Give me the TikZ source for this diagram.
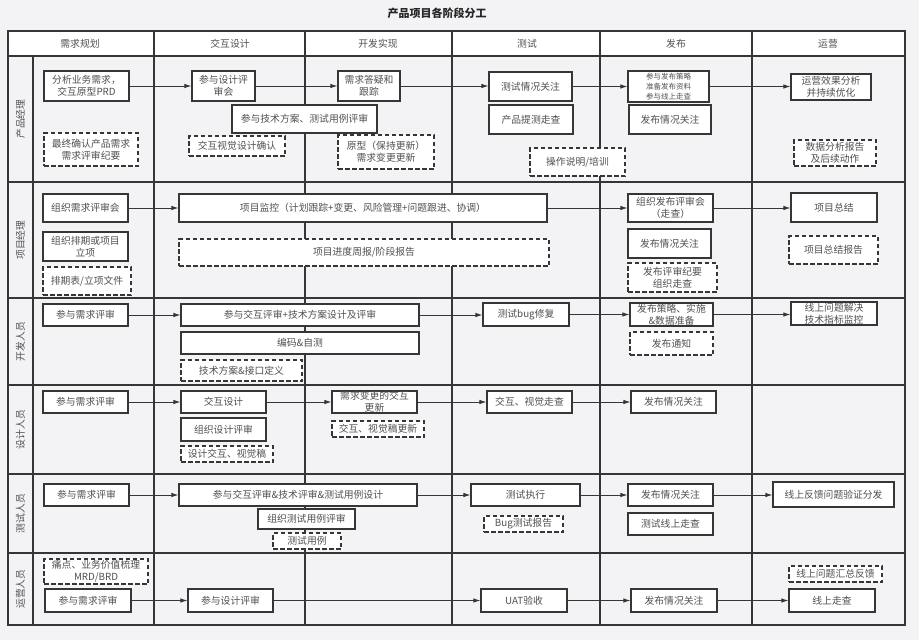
\documentclass[tikz,border=0pt]{standalone}
\usepackage{fontspec}
\setmainfont{Noto Sans CJK SC}
\usetikzlibrary{arrows.meta}
\definecolor{bg}{HTML}{F3F3F5}
\definecolor{ln}{HTML}{363636}
\definecolor{tx}{HTML}{505050}
\tikzset{
  box/.style={draw=ln, line width=1.1pt, fill=white, inner sep=0pt, align=center, text=tx, font=\fontsize{9.8}{12}\selectfont},
  dbox/.style={box, dash pattern=on 4.5pt off 2.5pt},
  sbox/.style={box, font=\fontsize{7.5}{10}\selectfont},
  flow/.style={draw=ln, line width=0.9pt, -{Latex[length=7pt,width=4.5pt]}},
  gridline/.style={draw=ln, line width=1.1pt},
  hdr/.style={text=tx, inner sep=0pt, font=\fontsize{9.8}{12}\selectfont},
  rowlab/.style={hdr, rotate=90},
}
\newcommand\BX[7]{\node[#1, minimum width={(#4-#2)*1pt}, minimum height={(#5-#3)*1pt}] (#6) at ({(#2+#4)/2},{(#3+#5)/2}) {#7};}
\begin{document}
\begin{tikzpicture}[x=1pt,y=-1pt]
\fill[bg] (0,0) rectangle (919,640);
\useasboundingbox (0,0) rectangle (919,640);
\fill[white] (8,31) rectangle (905,56);
% grid
\draw[gridline] (8,31) rectangle (905,625);
\foreach \yy in {56,182,298,385,474,553} \draw[gridline] (8,\yy) -- (905,\yy);
\draw[gridline] (33,56) -- (33,625);
\foreach \xx in {154,305,452,600,752} \draw[gridline] (\xx,31) -- (\xx,625);
% title and headers
\node[font=\bfseries\fontsize{11}{13}\selectfont, text=black!85, inner sep=0pt] (title) at (437,13) {产品项目各阶段分工};
\node[hdr] (h1) at (80,44) {需求规划};
\node[hdr] (h2) at (230,44) {交互设计};
\node[hdr] (h3) at (378,44) {开发实现};
\node[hdr] (h4) at (527,44) {测试};
\node[hdr] (h5) at (676,44) {发布};
\node[hdr] (h6) at (828,44) {运营};
\node[rowlab] (r1) at (20.5,119) {产品经理};
\node[rowlab] (r2) at (20.5,240) {项目经理};
\node[rowlab] (r3) at (20.5,341.5) {开发人员};
\node[rowlab] (r4) at (20.5,429.5) {设计人员};
\node[rowlab] (r5) at (20.5,513.5) {测试人员};
\node[rowlab] (r6) at (20.5,589) {运营人员};
% row 1
\BX{box}{44}{71}{129}{101}{a1}{分析业务需求，\\交互原型PRD}
\BX{box}{192}{71}{255}{101}{a2}{参与设计评\\审会}
\BX{box}{338}{71}{400}{101}{a3}{需求答疑和\\跟踪}
\BX{box}{489}{72}{572}{101}{a4}{测试情况关注}
\BX{box}{489}{105}{573}{134}{a5}{产品提测走查}
\BX{sbox}{628}{71}{709}{102}{a6}{参与发布策略\\准备发布资料\\参与线上走查}
\BX{box}{629}{105}{711}{134}{a7}{发布情况关注}
\BX{box}{791}{74}{871}{100}{a8}{运营效果分析\\并持续优化}
\BX{dbox}{794}{140}{876}{166}{a9}{数据分析报告\\及后续动作}
\BX{dbox}{530}{148}{625}{176}{a10}{操作说明/培训}
\BX{box}{232}{105}{377}{133}{a11}{参与技术方案、测试用例评审}
\BX{dbox}{44}{133}{138}{166}{a12}{最终确认产品需求\\需求评审纪要}
\BX{dbox}{189}{136}{285}{156}{a13}{交互视觉设计确认}
\BX{dbox}{338}{135}{434}{169}{a14}{原型（保持更新）\\需求变更更新}
% row 2
\BX{box}{43}{194}{128}{222}{b1}{组织需求评审会}
\BX{box}{43}{232}{128}{261}{b2}{组织排期或项目\\立项}
\BX{dbox}{43}{267}{131}{295}{b3}{排期表/立项文件}
\BX{box}{179}{194}{547}{222}{b4}{项目监控（计划跟踪+变更、风险管理+问题跟进、协调）}
\BX{dbox}{179}{239}{549}{266}{b5}{项目进度周报/阶段报告}
\BX{box}{628}{194}{713}{222}{b6}{组织发布评审会\\（走查）}
\BX{box}{628}{229}{711}{258}{b7}{发布情况关注}
\BX{dbox}{628}{263}{717}{292}{b8}{发布评审纪要\\组织走查}
\BX{box}{791}{193}{877}{222}{b9}{项目总结}
\BX{dbox}{789}{236}{878}{264}{b10}{项目总结报告}
% row 3
\BX{box}{43}{304}{128}{326}{c1}{参与需求评审}
\BX{box}{181}{304}{419}{326}{c2}{参与交互评审+技术方案设计及评审}
\BX{box}{181}{332}{419}{354}{c3}{编码\&自测}
\BX{dbox}{181}{360}{302}{381}{c4}{技术方案\&接口定义}
\BX{box}{483}{303}{569}{326}{c5}{测试bug修复}
\BX{box}{630}{303}{713}{326}{c6}{发布策略、实施\\\&数据准备}
\BX{dbox}{630}{332}{713}{355}{c7}{发布通知}
\BX{box}{791}{302}{877}{325}{c8}{线上问题解决\\技术指标监控}
% row 4
\BX{box}{43}{391}{128}{413}{d1}{参与需求评审}
\BX{box}{181}{391}{266}{413}{d2}{交互设计}
\BX{box}{181}{418}{266}{441}{d3}{组织设计评审}
\BX{dbox}{181}{446}{273}{462}{d4}{设计交互、视觉稿}
\BX{box}{332}{391}{417}{413}{d5}{需求变更的交互\\更新}
\BX{dbox}{332}{421}{424}{437}{d6}{交互、视觉稿更新}
\BX{box}{487}{391}{572}{413}{d7}{交互、视觉走查}
\BX{box}{631}{391}{716}{413}{d8}{发布情况关注}
% row 5
\BX{box}{44}{484}{129}{506}{e1}{参与需求评审}
\BX{box}{179}{484}{417}{506}{e2}{参与交互评审\&技术评审\&测试用例设计}
\BX{box}{258}{509}{355}{529}{e3}{组织测试用例评审}
\BX{dbox}{273}{533}{341}{549}{e4}{测试用例}
\BX{box}{471}{484}{580}{506}{e5}{测试执行}
\BX{dbox}{484}{516}{563}{532}{e6}{Bug测试报告}
\BX{box}{628}{484}{713}{506}{e7}{发布情况关注}
\BX{box}{628}{513}{713}{535}{e8}{测试线上走查}
\BX{box}{773}{482}{894}{507}{e9}{线上反馈问题验证分发}
% row 6
\BX{dbox}{44}{559}{148}{584}{f1}{痛点、业务价值梳理\\MRD/BRD}
\BX{box}{45}{589}{131}{612}{f2}{参与需求评审}
\BX{box}{188}{589}{273}{612}{f3}{参与设计评审}
\BX{box}{481}{589}{567}{612}{f4}{UAT验收}
\BX{box}{631}{589}{717}{612}{f5}{发布情况关注}
\BX{box}{789}{589}{875}{612}{f6}{线上走查}
\BX{dbox}{789}{566}{882}{582}{f7}{线上问题汇总反馈}
% arrows
\foreach \s/\t in {a1/a2,a2/a3,a3/a4,a4/a6,a6/a8,
                   b1/b4,b4/b6,b6/b9,
                   c1/c2,c2/c5,c5/c6,c6/c8,
                   d1/d2,d2/d5,d5/d7,d7/d8,
                   e1/e2,e2/e5,e5/e7,e7/e9,
                   f2/f3,f3/f4,f4/f5,f5/f6}
  \draw[flow] (\s.east) -- (\s.east -| \t.west);
\end{tikzpicture}
\end{document}
